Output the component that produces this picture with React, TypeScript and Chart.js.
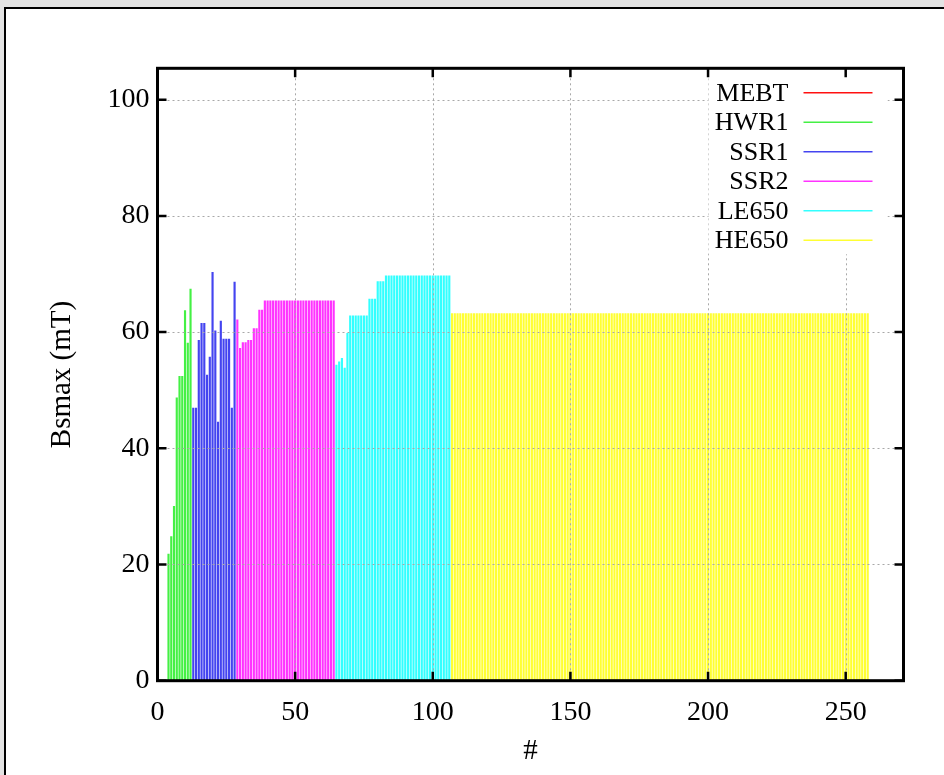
import React, { useEffect, useRef } from "react";
import { Chart, registerables } from "chart.js";

Chart.register(...registerables);

// ---- data ----
const seriesNames = ["MEBT", "HWR1", "SSR1", "SSR2", "LE650", "HE650"];
const seriesColors = ["#ff1010", "#44f044", "#4444f0", "#ff33ff", "#33ffff", "#ffff33"];

// cavity index of the first element in each section
const mebtStart = 1;
const hwr1Start = 4;
const ssr1Start = 13;
const ssr2Start = 29;
const le650Start = 65;
const he650Start = 107;

const mebtValues = [0, 0, 0];
const hwr1Values = [21.8, 24.8, 30.0, 48.7, 52.4, 52.4, 63.7, 58.1, 67.4];
const ssr1Values = [46.9, 46.9, 58.6, 61.5, 61.5, 52.6, 55.7, 70.3, 60.2, 44.5, 61.9, 58.8, 58.8, 58.8, 46.9, 68.6];
const ssr2Values = [
  62.1, 57.2, 58.2, 58.2, 58.6, 58.6, 60.6, 60.6, 63.8, 63.8,
  65.4, 65.4, 65.4, 65.4, 65.4, 65.4, 65.4, 65.4, 65.4, 65.4,
  65.4, 65.4, 65.4, 65.4, 65.4, 65.4, 65.4, 65.4, 65.4, 65.4,
  65.4, 65.4, 65.4, 65.4, 65.4, 65.4,
];
const le650Values = [
  54.3, 54.9, 55.5, 53.8, 59.8,
  62.8, 62.8, 62.8, 62.8, 62.8, 62.8, 62.8,
  65.7, 65.7, 65.7,
  68.7, 68.7, 68.7,
  69.7, 69.7, 69.7, 69.7, 69.7, 69.7, 69.7, 69.7, 69.7, 69.7,
  69.7, 69.7, 69.7, 69.7, 69.7, 69.7, 69.7, 69.7, 69.7, 69.7,
  69.7, 69.7, 69.7, 69.7,
];
const he650Values = [
  63.2, 63.2, 63.2, 63.2, 63.2, 63.2, 63.2, 63.2, 63.2, 63.2,
  63.2, 63.2, 63.2, 63.2, 63.2, 63.2, 63.2, 63.2, 63.2, 63.2,
  63.2, 63.2, 63.2, 63.2, 63.2, 63.2, 63.2, 63.2, 63.2, 63.2,
  63.2, 63.2, 63.2, 63.2, 63.2, 63.2, 63.2, 63.2, 63.2, 63.2,
  63.2, 63.2, 63.2, 63.2, 63.2, 63.2, 63.2, 63.2, 63.2, 63.2,
  63.2, 63.2, 63.2, 63.2, 63.2, 63.2, 63.2, 63.2, 63.2, 63.2,
  63.2, 63.2, 63.2, 63.2, 63.2, 63.2, 63.2, 63.2, 63.2, 63.2,
  63.2, 63.2, 63.2, 63.2, 63.2, 63.2, 63.2, 63.2, 63.2, 63.2,
  63.2, 63.2, 63.2, 63.2, 63.2, 63.2, 63.2, 63.2, 63.2, 63.2,
  63.2, 63.2, 63.2, 63.2, 63.2, 63.2, 63.2, 63.2, 63.2, 63.2,
  63.2, 63.2, 63.2, 63.2, 63.2, 63.2, 63.2, 63.2, 63.2, 63.2,
  63.2, 63.2, 63.2, 63.2, 63.2, 63.2, 63.2, 63.2, 63.2, 63.2,
  63.2, 63.2, 63.2, 63.2, 63.2, 63.2, 63.2, 63.2, 63.2, 63.2,
  63.2, 63.2, 63.2, 63.2, 63.2, 63.2, 63.2, 63.2, 63.2, 63.2,
  63.2, 63.2, 63.2, 63.2, 63.2, 63.2, 63.2, 63.2, 63.2, 63.2,
  63.2, 63.2,
];

const xTicks = [0, 50, 100, 150, 200, 250];
const yTicks = [0, 20, 40, 60, 80, 100];
const xMin = 0;
const xMax = 271;
const yMin = 0;
const yMax = 105.4;
const xTitle = "#";
const yTitle = "Bsmax (mT)";

const sections = [
  { start: mebtStart, values: mebtValues },
  { start: hwr1Start, values: hwr1Values },
  { start: ssr1Start, values: ssr1Values },
  { start: ssr2Start, values: ssr2Values },
  { start: le650Start, values: le650Values },
  { start: he650Start, values: he650Values },
];

const FONT = "'Liberation Serif', 'Times New Roman', serif";

const gnuplotFrame = {
  id: "gnuplotFrame",
  afterDatasetsDraw(chart: any) {
    const { ctx, chartArea: a } = chart;
    const xs = chart.scales.x;
    const ys = chart.scales.y;
    ctx.save();
    // dotted grid over the impulses
    ctx.strokeStyle = "#a8a8a8";
    ctx.lineWidth = 1;
    ctx.setLineDash([2, 3]);
    xTicks.forEach((v) => {
      if (v === xMin) return;
      const px = Math.round(xs.getPixelForValue(v)) + 0.5;
      ctx.beginPath();
      ctx.moveTo(px, a.top);
      ctx.lineTo(px, a.bottom);
      ctx.stroke();
    });
    yTicks.forEach((v) => {
      if (v === yMin) return;
      const py = Math.round(ys.getPixelForValue(v)) + 0.5;
      ctx.beginPath();
      ctx.moveTo(a.left, py);
      ctx.lineTo(a.right, py);
      ctx.stroke();
    });
    ctx.setLineDash([]);

    // opaque key
    ctx.fillStyle = "#ffffff";
    ctx.fillRect(a.right - 195, a.top + 2, 179, 184);
    ctx.font = `26px ${FONT}`;
    ctx.textAlign = "right";
    ctx.textBaseline = "middle";
    chart.data.datasets.forEach((ds: any, i: number) => {
      const yy = a.top + 24.5 + 29.5 * i;
      ctx.fillStyle = "#000";
      ctx.fillText(ds.label, a.right - 115, yy + 1);
      ctx.strokeStyle = ds.backgroundColor;
      ctx.lineWidth = 1.5;
      ctx.beginPath();
      ctx.moveTo(a.right - 100, yy);
      ctx.lineTo(a.right - 31, yy);
      ctx.stroke();
    });

    // border
    ctx.strokeStyle = "#000";
    ctx.lineWidth = 3;
    ctx.strokeRect(a.left, a.top, a.right - a.left, a.bottom - a.top);
    // inward ticks, mirrored
    const tl = 9;
    ctx.lineWidth = 2.5;
    xTicks.forEach((v) => {
      const px = xs.getPixelForValue(v);
      ctx.beginPath();
      ctx.moveTo(px, a.bottom);
      ctx.lineTo(px, a.bottom - tl);
      ctx.moveTo(px, a.top);
      ctx.lineTo(px, a.top + tl);
      ctx.stroke();
    });
    yTicks.forEach((v) => {
      const py = ys.getPixelForValue(v);
      ctx.beginPath();
      ctx.moveTo(a.left, py);
      ctx.lineTo(a.left + tl, py);
      ctx.moveTo(a.right, py);
      ctx.lineTo(a.right - tl, py);
      ctx.stroke();
    });
    ctx.restore();
  },
};

export default function App() {
  const canvasRef = useRef<HTMLCanvasElement | null>(null);

  useEffect(() => {
    if (!canvasRef.current) return;
    const datasets = sections.map((s, i) => ({
      label: seriesNames[i],
      data: s.values.map((v, k) => ({ x: s.start + k, y: v })),
      backgroundColor: seriesColors[i],
      borderWidth: 0,
      barThickness: 1.5,
      grouped: false,
    }));
    const chart = new Chart(canvasRef.current, {
      type: "bar",
      data: { datasets },
      options: {
        animation: false,
        responsive: false,
        maintainAspectRatio: false,
        devicePixelRatio: 1,
        layout: { padding: { left: 0, right: 40.5, top: 68.3, bottom: 0 } },
        plugins: { legend: { display: false }, tooltip: { enabled: false } },
        scales: {
          x: {
            type: "linear",
            offset: false,
            min: xMin,
            max: xMax,
            grid: { display: false, offset: false, drawTicks: false },
            border: { display: false },
            afterBuildTicks: (scale: any) => {
              scale.ticks = xTicks.map((v) => ({ value: v }));
            },
            afterFit: (scale: any) => {
              scale.height = 94.3;
            },
            ticks: {
              color: "#000",
              font: { family: FONT, size: 28 },
              padding: 15,
              maxRotation: 0,
              autoSkip: false,
            },
            title: {
              display: true,
              text: xTitle,
              color: "#000",
              font: { family: FONT, size: 29 },
              padding: { top: 0, bottom: 6 },
            },
          },
          y: {
            type: "linear",
            min: yMin,
            max: yMax,
            grid: { display: false, drawTicks: false },
            border: { display: false },
            afterBuildTicks: (scale: any) => {
              scale.ticks = yTicks.map((v) => ({ value: v }));
            },
            afterFit: (scale: any) => {
              scale.width = 157.5;
            },
            ticks: {
              color: "#000",
              font: { family: FONT, size: 28 },
              padding: 8,
              autoSkip: false,
            },
            title: {
              display: true,
              text: yTitle,
              color: "#000",
              font: { family: FONT, size: 29 },
              padding: { top: 45, bottom: 0 },
            },
          },
        },
      },
      plugins: [gnuplotFrame],
    });
    return () => chart.destroy();
  }, []);

  return (
    <div style={{ position: "fixed", left: 0, top: 0, width: 944, height: 775, background: "#e3e3e3", overflow: "hidden" }}>
      <div
        style={{
          position: "absolute",
          left: 4,
          top: 7,
          width: 980,
          height: 800,
          background: "#ffffff",
          borderLeft: "2px solid #000",
          borderTop: "2px solid #000",
        }}
      />
      <canvas ref={canvasRef} width={944} height={775} style={{ position: "absolute", left: 0, top: 0, width: 944, height: 775 }} />
    </div>
  );
}
